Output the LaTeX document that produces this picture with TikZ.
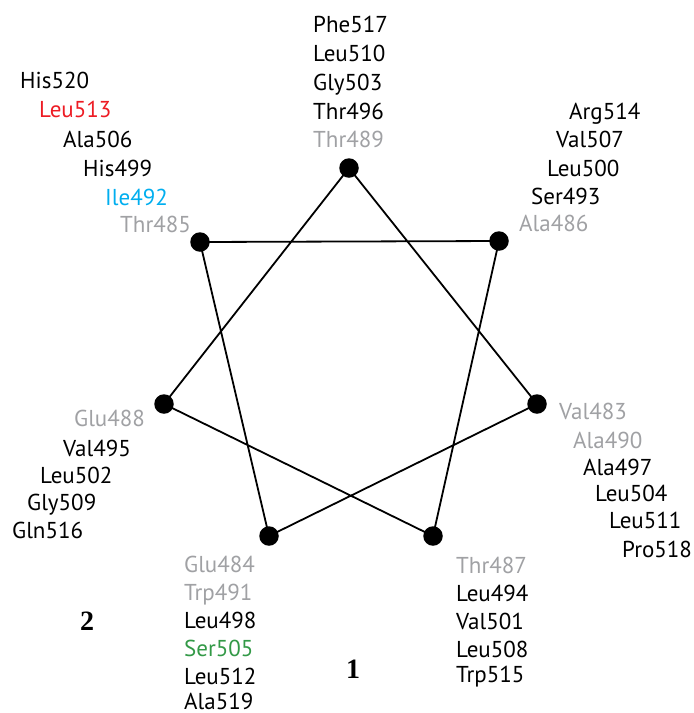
\documentclass[tikz,border=0pt]{standalone}
\usepackage{fontspec}
\setmainfont{PT Sans}
\newfontfamily\numfont{Liberation Serif}
\definecolor{lgray}{HTML}{A0A1A4}
\definecolor{lred}{HTML}{ED1C24}
\definecolor{lcyan}{HTML}{00AEEF}
\definecolor{lgreen}{HTML}{339947}
\begin{document}
\begin{tikzpicture}[x=1pt,y=-1pt,
  res/.style={anchor=base west,inner sep=0pt,font=\fontsize{23}{23}\selectfont},
  g/.style={res,text=lgray},
  dot/.style={circle,fill=black,minimum size=19.5pt,inner sep=0pt},
  edge/.style={line width=1.8pt,black},
  num/.style={anchor=base west,inner sep=0pt,font=\numfont\bfseries\fontsize{28}{28}\selectfont}]
\useasboundingbox (0,0) rectangle (694,713);
\coordinate (pT) at (349,168);
\coordinate (pUR) at (499,241);
\coordinate (pR) at (537,404);
\coordinate (pLR) at (433,536);
\coordinate (pLL) at (269,536);
\coordinate (pL) at (164,404);
\coordinate (pUL) at (200,242);
\draw[edge] (pT) -- (pR) -- (pLL) -- (pUL) -- (pUR) -- (pLR) -- (pL) -- cycle;
\foreach \p in {pT,pUR,pR,pLR,pLL,pL,pUL} \node[dot] (d\p) at (\p) {};
% top
\node[res] (t1) at (313,32.5) {Phe517};
\node[res] (t2) at (313,61.5) {Leu510};
\node[res] (t3) at (313,90.3) {Gly503};
\node[res] (t4) at (313,119) {Thr496};
\node[g] (t5) at (313,147.5) {Thr489};
% upper right
\node[res] (ur1) at (569,119) {Arg514};
\node[res] (ur2) at (556,147.5) {Val507};
\node[res] (ur3) at (547,176) {Leu500};
\node[res] (ur4) at (531,204) {Ser493};
\node[g] (ur5) at (519,231.5) {Ala486};
% upper left
\node[res] (ul1) at (20,88) {His520};
\node[res,text=lred] (ul2) at (39,117) {Leu513};
\node[res] (ul3) at (63,147) {Ala506};
\node[res] (ul4) at (83,176) {His499};
\node[res,text=lcyan] (ul5) at (105,205) {Ile492};
\node[g] (ul6) at (120,232) {Thr485};
% left
\node[g] (l1) at (74,426) {Glu488};
\node[res] (l2) at (63,456) {Val495};
\node[res] (l3) at (40,483) {Leu502};
\node[res] (l4) at (27,510) {Gly509};
\node[res] (l5) at (12,538) {Gln516};
% right
\node[g] (r1) at (559,419) {Val483};
\node[g] (r2) at (573,448) {Ala490};
\node[res] (r3) at (583,475) {Ala497};
\node[res] (r4) at (595,501) {Leu504};
\node[res] (r5) at (609,528) {Leu511};
\node[res] (r6) at (622,557) {Pro518};
% lower left
\node[g] (ll1) at (184,572) {Glu484};
\node[g] (ll2) at (184,600.5) {Trp491};
\node[res] (ll3) at (184,628.5) {Leu498};
\node[res,text=lgreen] (ll4) at (184,656.5) {Ser505};
\node[res] (ll5) at (184,684) {Leu512};
\node[res] (ll6) at (184,709) {Ala519};
% lower right
\node[g] (lr1) at (456,573) {Thr487};
\node[res] (lr2) at (456,601) {Leu494};
\node[res] (lr3) at (456,629.5) {Val501};
\node[res] (lr4) at (456,657) {Leu508};
\node[res] (lr5) at (456,682.5) {Trp515};
% numbers
\node[num] (n2) at (80,630) {2};
\node[num] (n1) at (346,678) {1};
\end{tikzpicture}
\end{document}
